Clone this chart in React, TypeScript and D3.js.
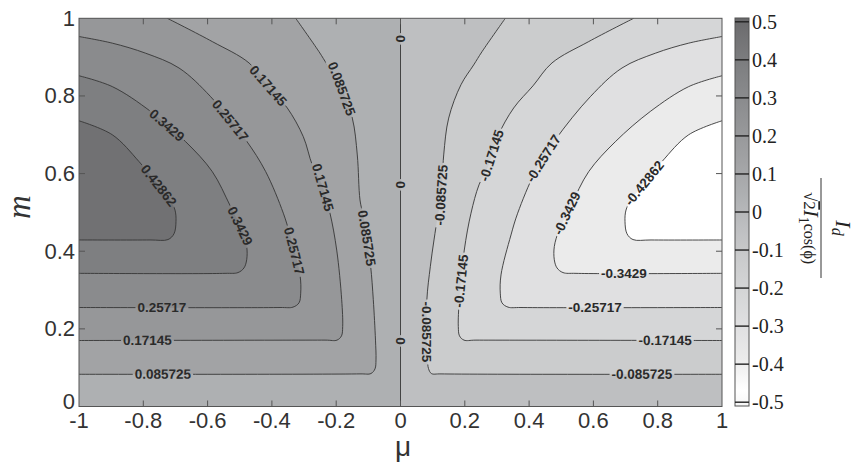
import React, { useEffect, useRef } from 'react';
import * as d3 from 'd3';

const W = 857;
const H = 463;

// contour levels of the filled plot
const levels = [-0.42862, -0.3429, -0.25717, -0.17145, -0.085725, 0, 0.085725, 0.17145, 0.25717, 0.3429, 0.42862];
const cbarRange = [-0.51, 0.51];
// one grey per band, lowest band first
const bandColors = ['#ffffff', '#ebebeb', '#e0e0e1', '#d5d6d7', '#cbcccd', '#bebfc1', '#aeb0b2', '#a2a3a5', '#969799', '#8a8b8d', '#7e7f81', '#717173'];

const muTicks = [-1, -0.8, -0.6, -0.4, -0.2, 0, 0.2, 0.4, 0.6, 0.8, 1];
const mTicks = [0, 0.2, 0.4, 0.6, 0.8, 1];
const cbarTicks = [0.5, 0.4, 0.3, 0.2, 0.1, 0, -0.1, -0.2, -0.3, -0.4, -0.5];

// contour lines as [mu, m], traced from the top down
const posLines = [
  { level: 0.085725, pts: [[-0.326, 1], [-0.2535, 0.914], [-0.2277, 0.88], [-0.1882, 0.829], [-0.1499, 0.743], [-0.1344, 0.648], [-0.126, 0.532], [-0.1166, 0.494], [-0.1042, 0.429], [-0.0927, 0.36], [-0.0846, 0.275], [-0.0778, 0.171], [-0.0762, 0.12], [-0.0793, 0.097], [-0.0918, 0.085], [-0.126, 0.084], [-1, 0.083]] },
  { level: 0.17145, pts: [[-0.7253, 1], [-0.5854, 0.94], [-0.4712, 0.885], [-0.4121, 0.826], [-0.3521, 0.769], [-0.3023, 0.695], [-0.2743, 0.622], [-0.2442, 0.571], [-0.2193, 0.498], [-0.1984, 0.403], [-0.1829, 0.275], [-0.1798, 0.206], [-0.1835, 0.182], [-0.1975, 0.171], [-0.2348, 0.171], [-1, 0.17]] },
  { level: 0.25717, pts: [[-1, 0.953], [-0.8964, 0.936], [-0.7925, 0.91], [-0.689, 0.872], [-0.5904, 0.798], [-0.4815, 0.687], [-0.4193, 0.605], [-0.3645, 0.498], [-0.3437, 0.442], [-0.3126, 0.339], [-0.3104, 0.292], [-0.3157, 0.267], [-0.3344, 0.256], [-0.3748, 0.255], [-1, 0.255]] },
  { level: 0.3429, pts: [[-1, 0.852], [-0.8964, 0.824], [-0.777, 0.76], [-0.6681, 0.682], [-0.5854, 0.605], [-0.5303, 0.518], [-0.493, 0.454], [-0.4784, 0.412], [-0.4784, 0.378], [-0.4868, 0.357], [-0.5054, 0.345], [-0.5459, 0.343], [-1, 0.343]] },
  { level: 0.42862, pts: [[-1, 0.736], [-0.8964, 0.7], [-0.8134, 0.631], [-0.7543, 0.571], [-0.717, 0.532], [-0.7014, 0.506], [-0.6983, 0.476], [-0.7045, 0.445], [-0.7232, 0.43], [-0.7792, 0.429], [-1, 0.429]] },
];

const negLines = [
  { level: -0.085725, pts: [[0.326, 1], [0.2535, 0.914], [0.2277, 0.88], [0.1882, 0.829], [0.1499, 0.743], [0.1344, 0.648], [0.126, 0.532], [0.1166, 0.494], [0.1042, 0.429], [0.0927, 0.36], [0.082, 0.275], [0.082, 0.171], [0.084, 0.12], [0.087, 0.098], [0.096, 0.085], [0.126, 0.084], [1, 0.083]] },
  { level: -0.17145, pts: [[0.7253, 1], [0.5854, 0.94], [0.4712, 0.885], [0.4121, 0.826], [0.3521, 0.769], [0.3023, 0.695], [0.2743, 0.622], [0.2442, 0.571], [0.2193, 0.498], [0.1984, 0.403], [0.1829, 0.275], [0.1798, 0.206], [0.1835, 0.182], [0.1975, 0.171], [0.2348, 0.171], [1, 0.17]] },
  { level: -0.25717, pts: [[1, 0.953], [0.8964, 0.936], [0.7925, 0.91], [0.689, 0.872], [0.5904, 0.798], [0.4815, 0.687], [0.4193, 0.605], [0.3645, 0.498], [0.3437, 0.442], [0.3126, 0.339], [0.3104, 0.292], [0.3157, 0.267], [0.3344, 0.256], [0.3748, 0.255], [1, 0.255]] },
  { level: -0.3429, pts: [[1, 0.852], [0.8964, 0.824], [0.777, 0.76], [0.6681, 0.682], [0.5854, 0.605], [0.5303, 0.518], [0.493, 0.454], [0.4784, 0.412], [0.4784, 0.378], [0.4868, 0.357], [0.5054, 0.345], [0.5459, 0.343], [1, 0.343]] },
  { level: -0.42862, pts: [[1, 0.736], [0.8964, 0.7], [0.8134, 0.631], [0.7543, 0.571], [0.717, 0.532], [0.7014, 0.506], [0.6983, 0.476], [0.7045, 0.445], [0.7232, 0.43], [0.7792, 0.429], [1, 0.429]] },
];

const zeroLine = [[0, 0], [0, 1]];

// inline labels: [level, mu, m]
const contourLabels = [
  [0.42862, -0.754, 0.568],
  [0.3429, -0.726, 0.725], [0.3429, -0.499, 0.465],
  [0.25717, -0.527, 0.738], [0.25717, -0.328, 0.401], [0.25717, -0.742, 0.256],
  [0.17145, -0.412, 0.826], [0.17145, -0.247, 0.563], [0.17145, -0.787, 0.171],
  [0.085725, -0.191, 0.816], [0.085725, -0.104, 0.434], [0.085725, -0.739, 0.084],
  [-0.42862, 0.757, 0.576],
  [-0.3429, 0.509, 0.501], [-0.3429, 0.695, 0.344],
  [-0.25717, 0.437, 0.643], [-0.25717, 0.605, 0.256],
  [-0.17145, 0.278, 0.648], [-0.17145, 0.191, 0.323], [-0.17145, 0.823, 0.171],
  [-0.085725, 0.115, 0.545], [-0.085725, 0.07, 0.192], [-0.085725, 0.751, 0.084],
  [0, 0, 0.947], [0, 0, 0.571], [0, 0, 0.169],
];

const SANS = '"Liberation Sans", Arial, sans-serif';
const SERIF = '"Liberation Serif", "Times New Roman", serif';

export default function App() {
  const svgRef = useRef<SVGSVGElement>(null);

  useEffect(() => {
    const svg = d3.select(svgRef.current);
    svg.selectAll('*').remove();

    const x = d3.scaleLinear().domain([-1, 1]).range([79, 722]);
    const y = d3.scaleLinear().domain([0, 1]).range([406.5, 18.3]);
    const line = d3.line<number[]>()
      .x(d => x(d[0]))
      .y(d => y(d[1]))
      .curve(d3.curveCatmullRom.alpha(0.5));

    const defs = svg.append('defs');
    defs.append('clipPath').attr('id', 'plotclip')
      .append('rect')
      .attr('x', x(-1)).attr('y', y(1))
      .attr('width', x(1) - x(-1)).attr('height', y(0) - y(1));
    const mask = defs.append('mask').attr('id', 'lblmask')
      .attr('maskUnits', 'userSpaceOnUse')
      .attr('x', 0).attr('y', 0).attr('width', W).attr('height', H);
    mask.append('rect').attr('width', W).attr('height', H).attr('fill', 'white');

    const plot = svg.append('g').attr('clip-path', 'url(#plotclip)');

    // filled bands
    plot.append('rect')
      .attr('x', x(-1)).attr('y', y(1))
      .attr('width', x(1) - x(-1)).attr('height', y(0) - y(1))
      .attr('fill', bandColors[5]);
    plot.append('rect')
      .attr('x', x(-1)).attr('y', y(1))
      .attr('width', x(0) - x(-1)).attr('height', y(0) - y(1))
      .attr('fill', bandColors[6]);
    posLines.forEach((c, i) => {
      plot.append('path')
        .attr('d', line(c.pts as any) + `L${x(-1)},${y(1)}Z`)
        .attr('fill', bandColors[7 + i]);
    });
    negLines.forEach((c, i) => {
      plot.append('path')
        .attr('d', line(c.pts as any) + `L${x(1)},${y(1)}Z`)
        .attr('fill', bandColors[4 - i]);
    });

    // contour lines, cut where labels sit
    const allLines = [...posLines, ...negLines, { level: 0, pts: zeroLine }];
    const lineG = plot.append('g').attr('mask', 'url(#lblmask)');
    allLines.forEach(c => {
      lineG.append('path')
        .attr('d', line(c.pts as any))
        .attr('fill', 'none')
        .attr('stroke', '#353535')
        .attr('stroke-width', 0.9);
    });

    // inline labels
    contourLabels.forEach(([lv, mu, mm]) => {
      const c = allLines.find(d => d.level === lv);
      if (!c) return;
      const px = c.pts.map(p => [x(p[0]), y(p[1])]);
      const tx = x(mu), ty = y(mm);
      let best = { d: Infinity, x: tx, y: ty, a: 0 };
      for (let i = 0; i < px.length - 1; i++) {
        const [x1, y1] = px[i];
        const [x2, y2] = px[i + 1];
        const dx = x2 - x1, dy = y2 - y1;
        const L2 = dx * dx + dy * dy;
        let t = L2 ? ((tx - x1) * dx + (ty - y1) * dy) / L2 : 0;
        t = Math.max(0, Math.min(1, t));
        const qx = x1 + t * dx, qy = y1 + t * dy;
        const d = Math.hypot(tx - qx, ty - qy);
        if (d < best.d) best = { d, x: qx, y: qy, a: Math.atan2(dy, dx) * 180 / Math.PI };
      }
      let a = best.a;
      if (a > 90) a -= 180;
      if (a <= -90) a += 180;
      const tf = `translate(${best.x},${best.y}) rotate(${a})`;
      const txt = svg.append('text')
        .attr('transform', tf)
        .attr('text-anchor', 'middle')
        .attr('dominant-baseline', 'central')
        .style('font-family', SANS)
        .style('font-weight', 'bold')
        .style('font-size', '13.5px')
        .attr('fill', '#2a2a2a')
        .text(String(lv));
      const w = (txt.node() as SVGTextElement).getComputedTextLength();
      mask.append('rect')
        .attr('transform', tf)
        .attr('x', -w / 2 - 2).attr('y', -6)
        .attr('width', w + 4).attr('height', 12)
        .attr('fill', 'black');
    });

    // frame and inward ticks
    svg.append('rect')
      .attr('x', x(-1)).attr('y', y(1))
      .attr('width', x(1) - x(-1)).attr('height', y(0) - y(1))
      .attr('fill', 'none').attr('stroke', '#555').attr('stroke-width', 1);
    const tickG = svg.append('g').attr('stroke', '#555').attr('stroke-width', 1);
    muTicks.slice(1, -1).forEach(t => {
      tickG.append('line').attr('x1', x(t)).attr('x2', x(t)).attr('y1', y(0)).attr('y2', y(0) - 6);
      tickG.append('line').attr('x1', x(t)).attr('x2', x(t)).attr('y1', y(1)).attr('y2', y(1) + 6);
    });
    mTicks.slice(1, -1).forEach(t => {
      tickG.append('line').attr('x1', x(-1)).attr('x2', x(-1) + 6).attr('y1', y(t)).attr('y2', y(t));
      tickG.append('line').attr('x1', x(1)).attr('x2', x(1) - 6).attr('y1', y(t)).attr('y2', y(t));
    });

    // tick labels
    svg.append('g').selectAll('text').data(muTicks).enter().append('text')
      .attr('x', d => x(d)).attr('y', 428)
      .attr('text-anchor', 'middle')
      .style('font-family', SANS).style('font-size', '22px')
      .attr('fill', '#333')
      .text(d => String(d));
    svg.append('g').selectAll('text').data(mTicks).enter().append('text')
      .attr('x', 75).attr('y', d => (d === 0 ? y(d) - 5 : y(d)))
      .attr('text-anchor', 'end').attr('dominant-baseline', 'central')
      .style('font-family', SANS).style('font-size', '22px')
      .attr('fill', '#333')
      .text(d => String(d));

    // axis titles
    svg.append('text')
      .attr('transform', 'translate(30,207) rotate(-90)')
      .attr('text-anchor', 'middle')
      .style('font-family', SERIF).style('font-style', 'italic').style('font-size', '33px')
      .attr('fill', '#333')
      .text('m');
    svg.append('text')
      .attr('x', 403).attr('y', 456)
      .attr('text-anchor', 'middle')
      .style('font-family', SANS).style('font-size', '28px')
      .attr('fill', '#333')
      .text('μ');

    // colorbar
    const cy = d3.scaleLinear().domain(cbarRange).range([406, 18]);
    const edges = [cbarRange[0], ...levels, cbarRange[1]];
    const grad = defs.append('linearGradient').attr('id', 'cbgrad')
      .attr('x1', 0).attr('y1', 0).attr('x2', 0).attr('y2', 1);
    grad.append('stop').attr('offset', 0).attr('stop-color', '#69696b');
    bandColors.slice().reverse().forEach((col, i) => {
      const k = bandColors.length - 1 - i;
      const mid = (edges[k] + edges[k + 1]) / 2;
      grad.append('stop').attr('offset', (cy(mid) - 18) / 388).attr('stop-color', col);
    });
    grad.append('stop').attr('offset', 1).attr('stop-color', '#f7f7f7');
    svg.append('rect')
      .attr('x', 735).attr('y', 18).attr('width', 14).attr('height', 388)
      .attr('fill', 'url(#cbgrad)').attr('stroke', '#555').attr('stroke-width', 1);
    const cbG = svg.append('g');
    cbarTicks.forEach(t => {
      cbG.append('line')
        .attr('x1', 735).attr('x2', 749).attr('y1', cy(t)).attr('y2', cy(t))
        .attr('stroke', '#222').attr('stroke-width', 1.4);
      cbG.append('text')
        .attr('x', 752).attr('y', cy(t))
        .attr('dominant-baseline', 'central')
        .style('font-family', SERIF).style('font-size', '20px')
        .attr('fill', '#222')
        .text(String(t));
    });

    // colorbar title, rotated clockwise
    const cl = svg.append('g').attr('transform', 'translate(821,228) rotate(90)')
      .attr('fill', '#222').style('font-family', SERIF);
    cl.append('line').attr('x1', -50).attr('x2', 50).attr('y1', 0).attr('y2', 0)
      .attr('stroke', '#333').attr('stroke-width', 1);
    const num = cl.append('text').attr('x', 0).attr('y', -15).attr('text-anchor', 'middle');
    num.append('tspan').style('font-style', 'italic').style('font-size', '22px').text('I');
    num.append('tspan').style('font-style', 'italic').style('font-size', '16px').attr('dy', 4).text('d');
    const den = cl.append('text').attr('x', 0).attr('y', 17).attr('text-anchor', 'middle');
    den.append('tspan').style('font-size', '17px').text('√');
    den.append('tspan').style('font-size', '17px').style('text-decoration', 'overline').text('2');
    den.append('tspan').style('font-style', 'italic').style('font-size', '21px').text('I');
    den.append('tspan').style('font-size', '14px').attr('dy', 5).text('1');
    den.append('tspan').style('font-size', '16px').attr('dy', -5).text('cos(ϕ)');
  }, []);

  return (
    <svg
      ref={svgRef}
      width={W}
      height={H}
      style={{ position: 'absolute', left: 0, top: 0, background: '#fff' }}
    />
  );
}
